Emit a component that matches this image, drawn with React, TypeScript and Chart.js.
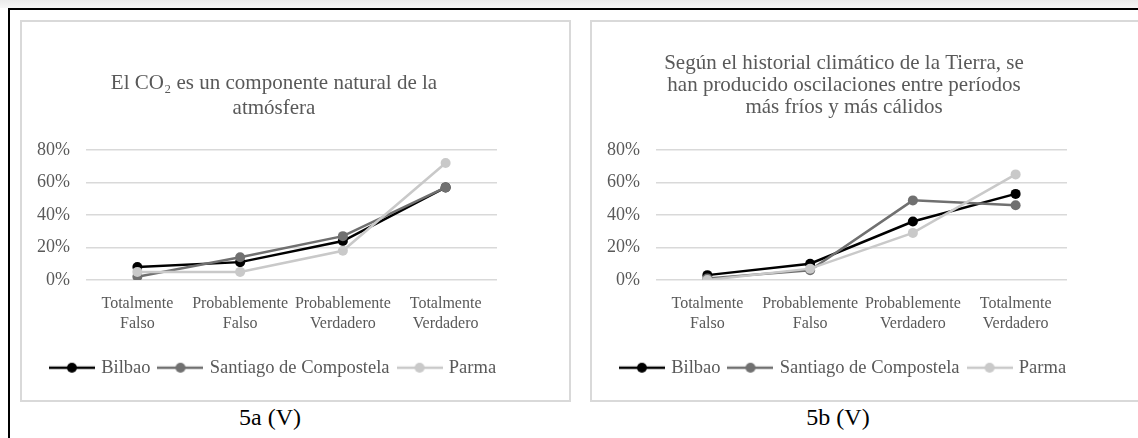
import { useEffect, useRef } from "react";
import { Chart, registerables } from "chart.js";

Chart.register(...registerables);

const categories = [
  ["Totalmente", "Falso"],
  ["Probablemente", "Falso"],
  ["Probablemente", "Verdadero"],
  ["Totalmente", "Verdadero"],
];
const seriesNames = ["Bilbao", "Santiago de Compostela", "Parma"];
const seriesColors = ["#000000", "#707070", "#c9c9c9"];
const yMin = 0;
const yMax = 80;
const yStep = 20;

const titleA = ["El CO₂ es un componente natural de la", "atmósfera"];
const bilbaoA = [8, 11, 24, 57];
const santiagoA = [2, 14, 27, 57];
const parmaA = [5, 5, 18, 72];
const captionA = "5a (V)";

const titleB = [
  "Según el historial climático de la Tierra, se",
  "han producido oscilaciones entre períodos",
  "más fríos y más cálidos",
];
const bilbaoB = [3, 10, 36, 53];
const santiagoB = [1, 6, 49, 46];
const parmaB = [0, 7, 29, 65];
const captionB = "5b (V)";

const FONT = "'Liberation Serif', 'Times New Roman', serif";
const TEXT = "#595959";
const CW = 547;
const CH = 378;

function legendImage(color: string): HTMLCanvasElement {
  const c = document.createElement("canvas");
  c.width = 46;
  c.height = 12;
  const ctx = c.getContext("2d")!;
  ctx.strokeStyle = color;
  ctx.lineWidth = 2.5;
  ctx.beginPath();
  ctx.moveTo(0, 6);
  ctx.lineTo(46, 6);
  ctx.stroke();
  ctx.fillStyle = color;
  ctx.beginPath();
  ctx.arc(23, 6, 5, 0, Math.PI * 2);
  ctx.fill();
  return c;
}

type Props = {
  title: string[];
  lineHeightPx: number;
  padTop: number;
  padBottom: number;
  series: number[][];
};

function LineChart({ title, lineHeightPx, padTop, padBottom, series }: Props) {
  const ref = useRef<HTMLCanvasElement | null>(null);
  useEffect(() => {
    if (!ref.current) return;
    const images = seriesColors.map((c) => legendImage(c));
    const orders = [2, 1, 0];
    const chart = new Chart(ref.current, {
      type: "line",
      data: {
        labels: categories,
        datasets: series.map((vals, i) => ({
          label: seriesNames[i],
          data: vals,
          borderColor: seriesColors[i],
          backgroundColor: seriesColors[i],
          pointBackgroundColor: seriesColors[i],
          pointBorderWidth: 0,
          pointRadius: 5,
          borderWidth: 2.5,
          tension: 0,
          fill: false,
          order: orders[i],
        })),
      },
      options: {
        responsive: false,
        animation: false,
        devicePixelRatio: 1,
        layout: { padding: { left: 15, right: 58, top: 0, bottom: 13 } },
        plugins: {
          tooltip: { enabled: false },
          title: {
            display: true,
            text: title,
            color: TEXT,
            font: { family: FONT, size: 21, weight: "normal", lineHeight: lineHeightPx / 21 },
            padding: { top: padTop, bottom: padBottom },
          },
          legend: {
            position: "bottom",
            labels: {
              font: { family: FONT, size: 18.5 },
              color: TEXT,
              usePointStyle: true,
              pointStyleWidth: 40,
              padding: 10,
              generateLabels: (ch: any) =>
                ch.data.datasets.map((ds: any, i: number) => ({
                  text: ds.label,
                  fillStyle: ds.backgroundColor,
                  strokeStyle: ds.borderColor,
                  lineWidth: 0,
                  pointStyle: images[i],
                  hidden: false,
                  datasetIndex: i,
                  fontColor: TEXT,
                })),
            },
          },
        },
        scales: {
          x: {
            offset: true,
            grid: { display: false, drawTicks: false, offset: true },
            border: { display: false },
            ticks: {
              color: TEXT,
              font: { family: FONT, size: 16, lineHeight: 1.25 },
              padding: 13.5,
              maxRotation: 0,
              autoSkip: false,
            },
            afterFit: (s: any) => {
              s.height = 68.5;
            },
          },
          y: {
            position: "left",
            min: yMin,
            max: yMax,
            grid: { color: "#d9d9d9", lineWidth: 1.5, drawTicks: false },
            border: { display: false },
            ticks: {
              stepSize: yStep,
              color: TEXT,
              font: { family: FONT, size: 18 },
              padding: 16,
              callback: (v: any) => v + "%",
            },
            afterFit: (s: any) => {
              s.width = 49;
            },
          },
          yR: {
            type: "linear",
            position: "right",
            display: true,
            grid: { display: false, drawTicks: false },
            border: { display: false },
            ticks: { display: false },
            afterFit: (s: any) => {
              s.width = 14;
            },
          },
        },
      } as any,
    });
    return () => chart.destroy();
  }, []);
  return <canvas ref={ref} width={CW} height={CH} style={{ display: "block", width: CW, height: CH }} />;
}

const panelStyle = (left: number): any => ({
  position: "absolute",
  left,
  top: 20,
  width: CW,
  height: CH,
  border: "2px solid #d9d9d9",
  background: "#fff",
});

const captionStyle = (center: number): any => ({
  position: "absolute",
  left: center - 100,
  top: 403,
  width: 200,
  textAlign: "center",
  fontFamily: FONT,
  fontSize: 24,
  lineHeight: "28px",
  color: "#000",
});

export default function App() {
  return (
    <div style={{ position: "absolute", left: 0, top: 0, width: 1138, height: 438, overflow: "hidden", background: "#fff" }}>
      <div style={{ position: "absolute", left: 0, top: 0, width: 1138, height: 8, background: "linear-gradient(#ebebeb, #f7f7f7)" }} />
      <div
        style={{
          position: "absolute",
          left: 8,
          top: 8,
          width: 1140,
          height: 440,
          borderTop: "2px solid #000",
          borderLeft: "2px solid #000",
        }}
      />
      <div style={panelStyle(20)}>
        <LineChart title={titleA} lineHeightPx={25} padTop={49} padBottom={29} series={[bilbaoA, santiagoA, parmaA]} />
      </div>
      <div style={panelStyle(590)}>
        <LineChart title={titleB} lineHeightPx={22} padTop={30.5} padBottom={31.5} series={[bilbaoB, santiagoB, parmaB]} />
      </div>
      <div style={captionStyle(270)}>{captionA}</div>
      <div style={captionStyle(838)}>{captionB}</div>
    </div>
  );
}
